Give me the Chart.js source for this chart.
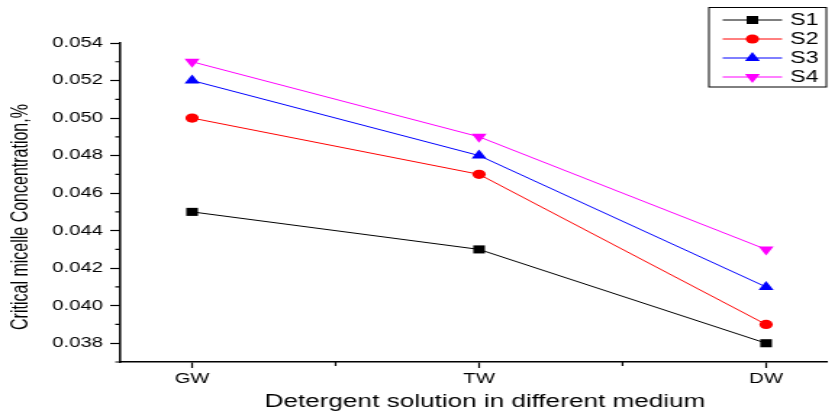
<!DOCTYPE html>
<html lang="en">
<head>
  <meta charset="UTF-8" />
  <title>Critical micelle concentration</title>
  <script src="https://cdn.jsdelivr.net/npm/chart.js"></script>
  <style>
    body {
      margin: 0;
      background: #fff;
      overflow: hidden;
    }

    #wrap {
      width: 835px;
      height: 413px;
    }

    /* the original picture is stretched sideways, so draw narrow and widen */
    #cmc {
      display: block;
      transform-origin: 0 0;
      transform: scaleX(1.4497);
    }
  </style>
</head>
<body>
  <div id="wrap"><canvas id="cmc" width="576" height="413"></canvas></div>

  <script>
    const media = ['GW', 'TW', 'DW'];
    const s1 = [0.045, 0.043, 0.038];
    const s2 = [0.050, 0.047, 0.039];
    const s3 = [0.052, 0.048, 0.041];
    const s4 = [0.053, 0.049, 0.043];
    const yTicks = [0.038, 0.040, 0.042, 0.044, 0.046, 0.048, 0.050, 0.052, 0.054];
    const yMinor = [0.037, 0.039, 0.041, 0.043, 0.045, 0.047, 0.049, 0.051, 0.053];
    const xMinor = [0.5, 1.5];

    const FONT = '"Liberation Sans", Arial, sans-serif';

    function points(values) {
      return media.map((m, i) => ({ x: i, y: values[i] }));
    }

    function series(label, values, color, style, radius, rotation) {
      return {
        label: label,
        data: points(values),
        borderColor: color,
        backgroundColor: color,
        pointBackgroundColor: color,
        pointBorderColor: color,
        pointBorderWidth: 0,
        borderWidth: 1,
        pointStyle: style,
        pointRadius: radius,
        pointHoverRadius: radius,
        pointRotation: rotation,
        tension: 0,
        clip: false
      };
    }

    // minor ticks, titles and the boxed legend
    const extras = {
      id: 'extras',
      afterDraw(chart) {
        const { ctx, chartArea, scales: { x, y } } = chart;
        ctx.save();

        ctx.strokeStyle = '#000';
        ctx.lineWidth = 1.2;
        ctx.beginPath();
        yMinor.forEach(v => {
          const py = y.getPixelForValue(v);
          ctx.moveTo(chartArea.left, py);
          ctx.lineTo(chartArea.left - 3.5, py);
        });
        xMinor.forEach(v => {
          const px = x.getPixelForValue(v);
          ctx.moveTo(px, chartArea.bottom);
          ctx.lineTo(px, chartArea.bottom + 4);
        });
        ctx.stroke();

        ctx.fillStyle = '#000';
        ctx.textAlign = 'center';
        ctx.textBaseline = 'middle';
        ctx.font = '18px ' + FONT;
        ctx.fillText('Detergent solution in different medium', 334.5, 402);

        ctx.save();
        ctx.translate(15, 217);
        ctx.rotate(-Math.PI / 2);
        ctx.font = '16px ' + FONT;
        ctx.fillText('Critical micelle Concentration,%', 0, 0);
        ctx.restore();

        // legend
        ctx.lineWidth = 1;
        ctx.strokeStyle = '#000';
        ctx.strokeRect(489, 7.5, 81, 79.5);
        chart.data.datasets.forEach((ds, i) => {
          const ly = 20 + i * 19;
          ctx.strokeStyle = ds.borderColor;
          ctx.lineWidth = 1;
          ctx.beginPath();
          ctx.moveTo(498.5, ly);
          ctx.lineTo(539.5, ly);
          ctx.stroke();
          ctx.fillStyle = ds.pointBackgroundColor;
          Chart.helpers.drawPoint(ctx, {
            pointStyle: ds.pointStyle,
            radius: ds.pointRadius,
            rotation: ds.pointRotation,
            borderWidth: 0
          }, 519, ly);
          ctx.fillStyle = '#000';
          ctx.textAlign = 'left';
          ctx.font = '16px ' + FONT;
          ctx.fillText(ds.label, 545, ly + 0.5);
        });

        ctx.restore();
      }
    };

    new Chart(document.getElementById('cmc'), {
      type: 'line',
      data: {
        datasets: [
          series('S1', s1, '#000000', 'rect', 5.7, 0),
          series('S2', s2, '#ff0000', 'circle', 4.6, 0),
          series('S3', s3, '#0000ff', 'triangle', 6, 0),
          series('S4', s4, '#ff00ff', 'triangle', 6, 180)
        ]
      },
      options: {
        responsive: false,
        animation: false,
        devicePixelRatio: 1,
        layout: { padding: { top: 43, right: 0, bottom: 0, left: 0 } },
        plugins: {
          legend: { display: false },
          tooltip: { enabled: false }
        },
        scales: {
          x: {
            type: 'linear',
            min: -0.25,
            max: 2.21,
            afterBuildTicks: scale => {
              scale.ticks = media.map((m, i) => ({ value: i }));
            },
            afterFit: scale => { scale.height = 51; },
            border: { display: true, color: '#000', width: 1.5 },
            grid: {
              display: true,
              drawOnChartArea: false,
              drawTicks: true,
              tickLength: 6,
              tickColor: '#000',
              tickWidth: 1.2
            },
            ticks: {
              color: '#000',
              padding: 3,
              maxRotation: 0,
              font: { family: FONT, size: 14 },
              callback: v => media[v]
            }
          },
          y: {
            type: 'linear',
            min: 0.037,
            max: 0.054,
            afterBuildTicks: scale => {
              scale.ticks = yTicks.map(v => ({ value: v }));
            },
            afterFit: scale => { scale.width = 83; },
            border: { display: true, color: '#000', width: 1.5 },
            grid: {
              display: true,
              drawOnChartArea: false,
              drawTicks: true,
              tickLength: 7,
              tickColor: '#000',
              tickWidth: 1.2
            },
            ticks: {
              color: '#000',
              padding: 5,
              font: { family: FONT, size: 14 },
              callback: v => v.toFixed(3)
            }
          }
        }
      },
      plugins: [extras]
    });
  </script>
</body>
</html>
